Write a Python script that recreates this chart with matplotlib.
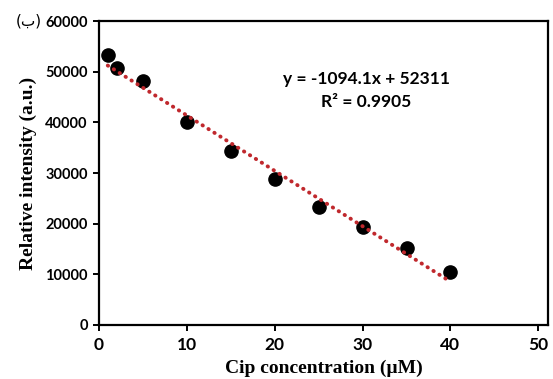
import matplotlib.pyplot as plt
import numpy as np

# data
conc = [1, 2, 5, 10, 15, 20, 25, 30, 35, 40]
intensity = [53300, 50800, 48100, 40100, 34400, 28900, 23300, 19350, 15100, 10450]

# trendline coefficients shown on the chart
slope, intercept = -1094.1, 52311
r2 = 0.9905

xticks = [0, 10, 20, 30, 40, 50]
yticks = [0, 10000, 20000, 30000, 40000, 50000, 60000]

fig = plt.figure(figsize=(5.53, 3.79), dpi=100)
ax = fig.add_axes([0.179, 0.1425, 0.812, 0.802])

ax.plot(conc, intensity, "o", color="black", markersize=9.5, zorder=2)

fit_x = np.array([conc[0], conc[-1] - 0.5])
ax.plot(fit_x, slope * fit_x + intercept, color="#c0282d",
        linestyle=(0, (0.1, 1.7)), linewidth=2.8,
        dash_capstyle="round", zorder=3)

ax.set_xlim(0, 51.1)
ax.set_ylim(0, 60000)
ax.set_xticks(xticks)
ax.set_yticks(yticks)

for side in ["left", "right", "top", "bottom"]:
    ax.spines[side].set_linewidth(1.6)

ax.tick_params(axis="both", direction="out", width=1.4, length=4)
ax.tick_params(axis="x", pad=5)
ax.tick_params(axis="y", pad=4)
for lab in ax.get_xticklabels():
    lab.set_fontfamily("Lato")
    lab.set_fontweight("bold")
    lab.set_fontsize(12.5)
for lab in ax.get_yticklabels():
    lab.set_fontfamily("Lato")
    lab.set_fontweight("bold")
    lab.set_fontsize(10.5)

ax.set_xlabel("Cip concentration (\u00b5M)", family="Liberation Serif",
              fontweight="bold", fontsize=14)
ax.xaxis.set_label_coords(0.5, -0.115)
ax.set_ylabel("Relative intensity (a.u.)", family="Liberation Serif",
              fontweight="bold", fontsize=14, labelpad=6)

ax.text(0.595, 0.81, f"y = {slope}x + {intercept}", transform=ax.transAxes,
        ha="center", va="center", family="Lato", fontweight="bold", fontsize=12.5)
ax.text(0.595, 0.735, f"R\u00b2 = {r2}", transform=ax.transAxes,
        ha="center", va="center", family="Lato", fontweight="bold", fontsize=12.5)

fig.text(0.052, 0.945, "(\u0628)", family=["DejaVu Sans"],
         fontsize=11, ha="center", va="center")

fig.savefig("out.png", dpi=100)
